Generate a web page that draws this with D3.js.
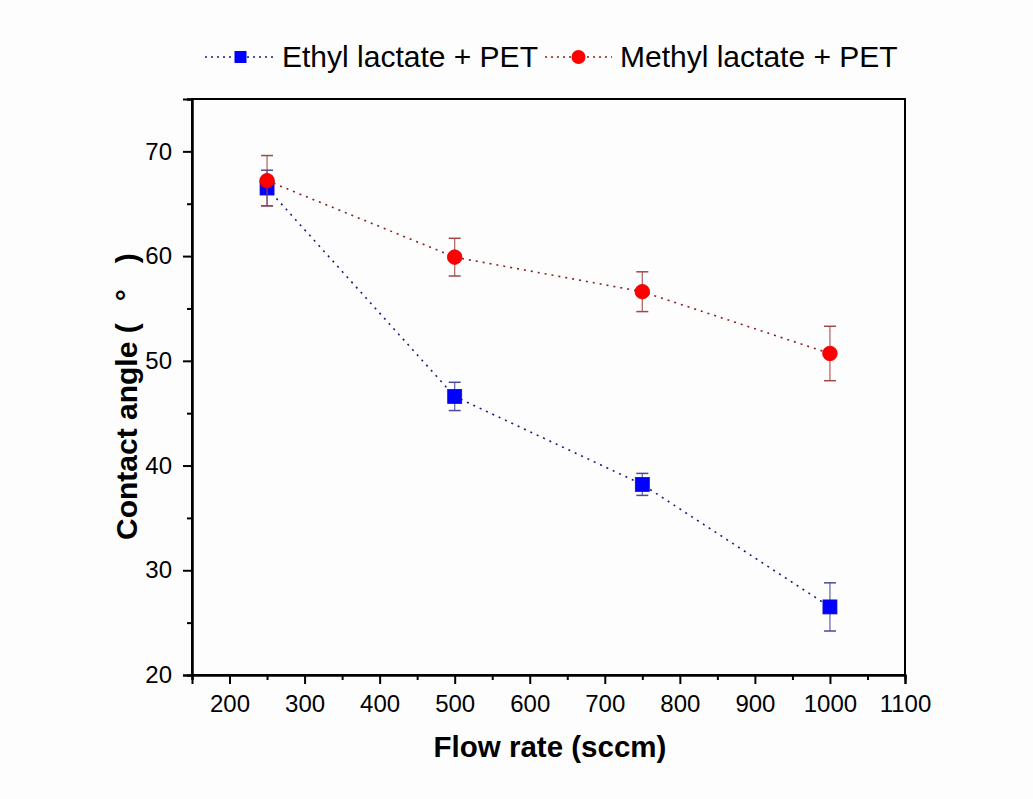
<!DOCTYPE html>
<html>
<head>
<meta charset="utf-8">
<script src="https://d3js.org/d3.v7.min.js"></script>
<style>
  body { margin: 0; background: #fdfdfd; }
  svg { display: block; font-family: Arial, "Liberation Sans", sans-serif; }
</style>
</head>
<body>
<svg id="chart" width="1033" height="799"></svg>
<script>
// Data
const flowRate = [250, 500, 750, 1000];
const ethylAngle = [66.5, 46.6, 38.2, 26.5];
const ethylErr = [1.7, 1.35, 1.05, 2.3];
const methylAngle = [67.2, 59.9, 56.6, 50.7];
const methylErr = [2.4, 1.8, 1.9, 2.6];

const xTicks = [200, 300, 400, 500, 600, 700, 800, 900, 1000, 1100];
const xMinor = [150, 250, 350, 450, 550, 650, 750, 850, 950, 1050];
const yTicks = [20, 30, 40, 50, 60, 70];
const yMinor = [25, 35, 45, 55, 65, 75];

const seriesNames = ["Ethyl lactate + PET", "Methyl lactate + PET"];

const svg = d3.select("#chart");
svg.append("rect").attr("width", 1033).attr("height", 799).attr("fill", "#fdfdfd");

const x = d3.scaleLinear().domain([150, 1100]).range([192, 905]);
const y = d3.scaleLinear().domain([20, 75]).range([675, 99]);

// frame
svg.append("rect")
    .attr("x", x(150)).attr("y", y(75))
    .attr("width", x(1100) - x(150)).attr("height", y(20) - y(75))
    .attr("fill", "none").attr("stroke", "#000").attr("stroke-width", 2);

// axes
svg.append("g").attr("transform", `translate(0,${y(20)})`)
    .call(d3.axisBottom(x).tickValues(xTicks).tickSize(9).tickPadding(11).tickFormat(d3.format("d")));
svg.append("g").attr("transform", `translate(0,${y(20)})`)
    .call(d3.axisBottom(x).tickValues(xMinor).tickSize(5).tickFormat(""));
svg.append("g").attr("transform", `translate(${x(150)},0)`)
    .call(d3.axisLeft(y).tickValues(yTicks).tickSize(9).tickPadding(11).tickFormat(d3.format("d")));
svg.append("g").attr("transform", `translate(${x(150)},0)`)
    .call(d3.axisLeft(y).tickValues(yMinor).tickSize(5).tickFormat(""));

svg.selectAll(".domain").attr("stroke", "#000").attr("stroke-width", 2);
svg.selectAll(".tick line").attr("stroke", "#000").attr("stroke-width", 2);
svg.selectAll(".tick text").attr("font-size", 24).attr("fill", "#000")
    .attr("font-family", "Arial, 'Liberation Sans', sans-serif");

// axis titles
svg.append("text")
    .attr("x", 550).attr("y", 757)
    .attr("text-anchor", "middle")
    .attr("font-size", 29.5).attr("font-weight", "bold")
    .text("Flow rate (sccm)");

const yTitle = svg.append("text")
    .attr("transform", "translate(137,540) rotate(-90)")
    .attr("text-anchor", "start")
    .attr("font-size", 30).attr("font-weight", "bold");
yTitle.append("tspan").text("Contact angle (");
yTitle.append("tspan").attr("dx", 22).text("°");
yTitle.append("tspan").attr("dx", 26).text(")");

// series drawing
function drawSeries(values, errs, lineColor, errColor, fill, stroke, shape) {
    const g = svg.append("g");
    const pts = flowRate.map((f, i) => ({ f, v: values[i], e: errs[i] }));

    g.append("path")
        .datum(pts)
        .attr("fill", "none")
        .attr("stroke", lineColor)
        .attr("stroke-width", 1.6)
        .attr("stroke-dasharray", "2,5")
        .attr("d", d3.line().x(d => x(d.f)).y(d => y(d.v)));

    const eb = g.selectAll(".err").data(pts).join("g").attr("class", "err");
    eb.append("line")
        .attr("x1", d => x(d.f)).attr("x2", d => x(d.f))
        .attr("y1", d => y(d.v + d.e)).attr("y2", d => y(d.v - d.e))
        .attr("stroke", errColor).attr("stroke-width", 1.3).attr("opacity", 0.8);
    eb.selectAll(".cap").data(d => [d.v + d.e, d.v - d.e].map(v => ({ f: d.f, v })))
        .join("line")
        .attr("x1", d => x(d.f) - 6).attr("x2", d => x(d.f) + 6)
        .attr("y1", d => y(d.v)).attr("y2", d => y(d.v))
        .attr("stroke", errColor).attr("stroke-width", 1.5);

    if (shape === "square") {
        g.selectAll(".mk").data(pts).join("rect")
            .attr("x", d => x(d.f) - 7).attr("y", d => y(d.v) - 7)
            .attr("width", 14).attr("height", 14)
            .attr("fill", fill).attr("stroke", stroke).attr("stroke-width", 0.8);
    } else {
        g.selectAll(".mk").data(pts).join("circle")
            .attr("cx", d => x(d.f)).attr("cy", d => y(d.v)).attr("r", 7.3)
            .attr("fill", fill).attr("stroke", stroke).attr("stroke-width", 0.8);
    }
}

drawSeries(ethylAngle, ethylErr, "#1c1c80", "#4a4a98", "#0000ff", "#1010c0", "square");
drawSeries(methylAngle, methylErr, "#8b2020", "#a04848", "#ff0000", "#e00000", "circle");

// legend
const legend = svg.append("g");
const legendItems = [
    { name: seriesNames[0], x0: 205, x1: 276, color: "#1c1c80", fill: "#0000ff", shape: "square", tx: 282 },
    { name: seriesNames[1], x0: 545, x1: 612, color: "#8b2020", fill: "#ff0000", shape: "circle", tx: 620 }
];
legendItems.forEach(it => {
    legend.append("line")
        .attr("x1", it.x0).attr("x2", it.x1).attr("y1", 57).attr("y2", 57)
        .attr("stroke", it.color).attr("stroke-width", 1.6).attr("stroke-dasharray", "2,4");
    const cx = (it.x0 + it.x1) / 2;
    if (it.shape === "square") {
        legend.append("rect").attr("x", cx - 6).attr("y", 51).attr("width", 12).attr("height", 12)
            .attr("fill", it.fill);
    } else {
        legend.append("circle").attr("cx", cx).attr("cy", 57).attr("r", 7).attr("fill", it.fill);
    }
    legend.append("text")
        .attr("x", it.tx).attr("y", 67)
        .attr("font-size", 30)
        .text(it.name);
});
</script>
</body>
</html>
